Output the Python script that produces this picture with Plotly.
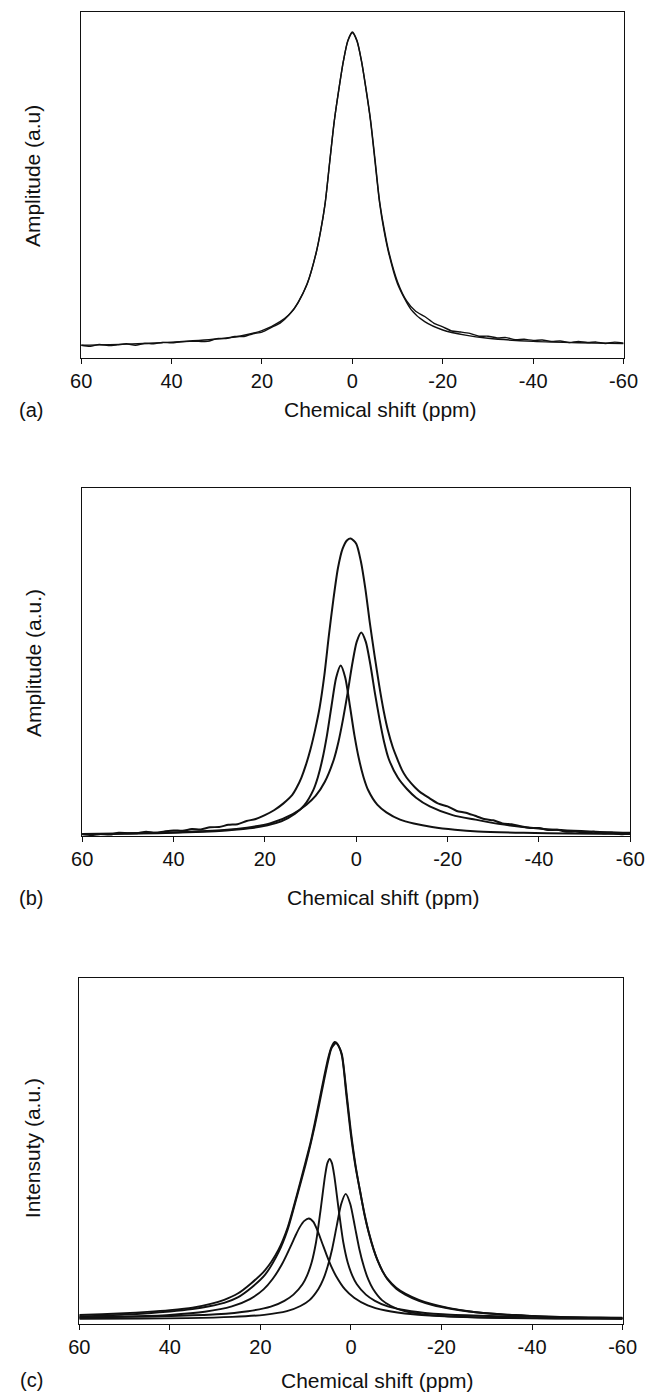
import plotly.graph_objects as go

W, H = 652, 1394

# ---------------- data (chemical shift in ppm, amplitude in axis fraction) -------------
# Panel (a): experimental spectrum and fitted single line
a_exp_x = [60, 58, 56, 54, 52, 50, 48, 46, 44, 42, 40, 38, 36, 34, 32, 30, 28, 26, 24, 22, 20,
           18, 16, 14, 12, 10, 8, 7, 6, 5, 4, 3, 2, 1, 0, -1, -2, -3, -4, -5, -6, -7, -8, -10,
           -12, -14, -16, -18, -20, -22, -24, -26, -28, -30, -32, -34, -36, -38, -40, -42, -44,
           -46, -48, -50, -52, -54, -56, -58, -60]
a_exp_y = [0.037, 0.034, 0.039, 0.036, 0.038, 0.041, 0.037, 0.042, 0.041, 0.045, 0.044, 0.047,
           0.048, 0.048, 0.048, 0.056, 0.056, 0.062, 0.062, 0.070, 0.075, 0.088, 0.101, 0.125,
           0.160, 0.215, 0.305, 0.37, 0.45, 0.57, 0.685, 0.775, 0.857, 0.918, 0.942, 0.918,
           0.86, 0.78, 0.69, 0.575, 0.455, 0.375, 0.31, 0.22, 0.165, 0.135, 0.120, 0.101,
           0.090, 0.078, 0.075, 0.071, 0.063, 0.063, 0.058, 0.059, 0.053, 0.054, 0.051, 0.052,
           0.048, 0.049, 0.045, 0.048, 0.045, 0.046, 0.042, 0.046, 0.043]
a_fit_x = [60, 50, 40, 30, 25, 20, 16, 13, 10, 8, 7, 6, 5, 4, 3, 2, 1, 0, -1, -2, -3, -4, -5,
           -6, -7, -8, -10, -13, -16, -20, -25, -30, -40, -50, -60]
a_fit_y = [0.037, 0.040, 0.046, 0.055, 0.063, 0.079, 0.105, 0.14, 0.214, 0.305, 0.368, 0.45,
           0.568, 0.686, 0.777, 0.858, 0.916, 0.94, 0.916, 0.858, 0.777, 0.686, 0.568, 0.45,
           0.368, 0.305, 0.214, 0.14, 0.105, 0.081, 0.066, 0.057, 0.048, 0.044, 0.042]

# Panel (b): experimental spectrum and two fitted components
b_exp_x = [60, 58, 56, 54, 52, 50, 48, 46, 44, 42, 40, 38, 36, 34, 32, 30, 28, 26, 24, 22, 20,
           18, 16, 14, 13, 12, 11, 10, 9, 8, 7, 6, 5, 4, 3, 2, 1.2, 0, -1, -2, -3, -4, -5, -6,
           -7, -8, -9, -10, -11, -12, -13, -14, -16, -18, -20, -22, -24, -26, -28, -30, -32,
           -34, -36, -38, -40, -42, -44, -46, -48, -50, -52, -54, -56, -58, -60]
b_exp_y = [0.006, 0.003, 0.006, 0.004, 0.009, 0.008, 0.008, 0.012, 0.009, 0.013, 0.016, 0.015,
           0.020, 0.019, 0.025, 0.026, 0.032, 0.034, 0.043, 0.049, 0.060, 0.074, 0.093, 0.118,
           0.140, 0.168, 0.205, 0.25, 0.305, 0.37, 0.46, 0.575, 0.68, 0.77, 0.825, 0.85, 0.855,
           0.84, 0.79, 0.71, 0.61, 0.52, 0.435, 0.36, 0.30, 0.255, 0.221, 0.19, 0.168, 0.152,
           0.138, 0.126, 0.109, 0.093, 0.085, 0.072, 0.067, 0.058, 0.049, 0.045, 0.036, 0.034,
           0.028, 0.023, 0.023, 0.017, 0.018, 0.012, 0.013, 0.010, 0.012, 0.008, 0.009, 0.005,
           0.008]
b_c1_x = [60, 53.4, 43.4, 33.4, 28.4, 23.4, 19.4, 16.4, 13.4, 11.4, 9.4, 8.4, 7.4, 6.4, 5.4,
          4.4, 3.4, 2.4, 1.4, 0.4, -0.6, -1.6, -2.6, -4.6, -6.6, -9.6, -12.6, -16.6, -21.6,
          -26.6, -36.6, -46.6, -60]
b_c1_y = [0.005, 0.006, 0.008, 0.012, 0.016, 0.022, 0.031, 0.042, 0.064, 0.088, 0.132, 0.169,
          0.221, 0.29, 0.375, 0.455, 0.49, 0.455, 0.375, 0.29, 0.221, 0.169, 0.132, 0.09,
          0.068, 0.047, 0.036, 0.026, 0.018, 0.013, 0.009, 0.007, 0.006]
b_c2_x = [60, 48.9, 38.9, 28.9, 23.9, 18.9, 13.9, 10.9, 8.9, 6.9, 4.9, 3.9, 2.9, 1.9, 0.9,
          -0.1, -1.1, -2.1, -3.1, -4.1, -5.1, -6.1, -7.1, -9.1, -11.1, -13.1, -16.1, -21.1,
          -26.1, -31.1, -41.1, -51.1, -60]
b_c2_y = [0.006, 0.008, 0.011, 0.017, 0.024, 0.036, 0.063, 0.09, 0.115, 0.155, 0.22, 0.27,
          0.335, 0.41, 0.492, 0.558, 0.585, 0.558, 0.492, 0.41, 0.335, 0.27, 0.222, 0.168,
          0.135, 0.11, 0.085, 0.06, 0.047, 0.035, 0.02, 0.013, 0.009]

# Panel (c): experimental spectrum, total fit and three components
c_exp_x = [60, 55, 50, 45, 40, 35, 31, 28, 25, 22, 19, 16, 14, 12, 10, 9, 8, 7, 6, 5, 4.3,
           3.6, 3, 2, 1, 0, -1, -2, -3, -4, -5, -6, -7, -8, -10, -12, -15, -18, -22, -26,
           -30, -35, -40, -45, -50, -55, -60]
c_exp_y = [0.026, 0.028, 0.031, 0.035, 0.040, 0.047, 0.058, 0.070, 0.088, 0.118, 0.155, 0.215,
           0.278, 0.37, 0.47, 0.52, 0.58, 0.645, 0.71, 0.77, 0.80, 0.815, 0.81, 0.775, 0.66,
           0.545, 0.455, 0.385, 0.315, 0.26, 0.215, 0.18, 0.152, 0.132, 0.105, 0.088, 0.07,
           0.057, 0.045, 0.037, 0.031, 0.027, 0.023, 0.021, 0.019, 0.018, 0.017]
c_fit_x = [60, 50, 40, 35, 31, 28, 25, 22, 19, 16, 14, 12, 10, 9, 8, 7, 6, 5, 4.3, 3.3, 2.6,
           2, 1, 0, -1, -2, -3, -4, -5, -6, -7, -8, -10, -12, -15, -18, -22, -26, -30, -35,
           -40, -45, -50, -55, -60]
c_fit_y = [0.022, 0.027, 0.036, 0.043, 0.052, 0.061, 0.077, 0.105, 0.142, 0.207, 0.272, 0.365,
           0.462, 0.515, 0.572, 0.635, 0.70, 0.762, 0.797, 0.812, 0.80, 0.78, 0.672, 0.555,
           0.46, 0.385, 0.318, 0.262, 0.217, 0.18, 0.152, 0.13, 0.102, 0.085, 0.067, 0.055,
           0.044, 0.036, 0.031, 0.026, 0.023, 0.02, 0.018, 0.017, 0.016]
c_A_x = [60, 50, 40, 32.3, 26.3, 22.3, 19.3, 17.3, 15.3, 14.3, 13.3, 12.3, 11.3, 10.3, 9.3,
         8.3, 7.3, 6.3, 5.3, 4.3, 3.3, 1.3, -0.7, -3.7, -7.7, -13.7, -20.7, -30.7, -40.7, -50, -60]
c_A_y = [0.0187, 0.0213, 0.0265, 0.0355, 0.051, 0.072, 0.1, 0.13, 0.171, 0.197, 0.225, 0.254,
         0.28, 0.298, 0.305, 0.295, 0.267, 0.232, 0.197, 0.165, 0.139, 0.1, 0.076, 0.054,
         0.039, 0.028, 0.0225, 0.0188, 0.017, 0.0163, 0.0156]
c_B_x = [60, 49.7, 39.7, 29.7, 22.7, 17.7, 14.7, 12.7, 10.7, 9.7, 8.7, 7.7, 6.7, 5.7, 5.2, 4.7,
         4.2, 3.7, 2.7, 1.7, 0.7, -0.3, -1.3, -3.3, -5.3, -8.3, -13.3, -20.3, -30.3, -45, -60]
c_B_y = [0.019, 0.021, 0.023, 0.028, 0.037, 0.05, 0.067, 0.085, 0.115, 0.14, 0.177, 0.237,
         0.33, 0.43, 0.465, 0.477, 0.465, 0.43, 0.33, 0.237, 0.177, 0.14, 0.115, 0.085, 0.067,
         0.05, 0.037, 0.028, 0.023, 0.02, 0.018]
c_C_x = [60, 46.15, 36.15, 26.15, 19.15, 14.15, 11.15, 9.15, 7.15, 6.15, 5.15, 4.15, 3.15,
         2.15, 1.15, 0.15, -0.85, -1.85, -2.85, -3.85, -4.85, -6.85, -8.85, -11.85, -16.85,
         -23.85, -33.85, -45, -60]
c_C_y = [0.015, 0.016, 0.017, 0.0205, 0.0265, 0.037, 0.052, 0.069, 0.102, 0.128, 0.166, 0.217,
         0.283, 0.347, 0.376, 0.347, 0.283, 0.217, 0.166, 0.128, 0.102, 0.069, 0.052, 0.037,
         0.0265, 0.0205, 0.017, 0.016, 0.015]

tick_vals = [60, 40, 20, 0, -20, -40, -60]
tick_text = ["60", "40", "20", "0", "-20", "-40", "-60"]

panel_tags = ["(a)", "(b)", "(c)"]
y_titles = ["Amplitude (a.u)", "Amplitude (a.u.)", "Intensuty (a.u.)"]
x_title = "Chemical shift (ppm)"

# ---------------- layout geometry (pixels) ----------------
FONT = "Liberation Sans, Arial, Helvetica, sans-serif"
INK = "#111111"

panels = [
    dict(l=73, r=637, t=12, b=358, lw=1.4, ytc=(23, 176), xt=(384, 409), tag=(21, 410)),
    dict(l=74, r=644, t=488, b=836, lw=2.0, ytc=(23, 663), xt=(387, 897), tag=(21, 898)),
    dict(l=71, r=636, t=978, b=1324, lw=1.9, ytc=(22, 1148), xt=(381, 1380), tag=(21, 1380)),
]


def px(x):
    return x / W


def py(y):
    return 1 - y / H


series = [
    [(a_exp_x, a_exp_y), (a_fit_x, a_fit_y)],
    [(b_exp_x, b_exp_y), (b_c1_x, b_c1_y), (b_c2_x, b_c2_y)],
    [(c_exp_x, c_exp_y), (c_fit_x, c_fit_y), (c_A_x, c_A_y), (c_B_x, c_B_y), (c_C_x, c_C_y)],
]

fig = go.Figure()
layout = dict(
    width=W, height=H, margin=dict(l=0, r=0, t=0, b=0),
    paper_bgcolor="white", plot_bgcolor="white", showlegend=False,
    font=dict(family=FONT, color=INK, size=20),
)
annotations = []

for i, (p, ser) in enumerate(zip(panels, series)):
    k = "" if i == 0 else str(i + 1)
    for xs, ys in ser:
        fig.add_trace(go.Scatter(
            x=xs, y=ys, mode="lines", xaxis="x" + k, yaxis="y" + k,
            line=dict(color=INK, width=p["lw"], shape="spline", smoothing=0.7),
            hoverinfo="skip"))
    layout["xaxis" + k] = dict(
        domain=[px(p["l"]), px(p["r"])], anchor="y" + k,
        range=[60, -60], tickmode="array", tickvals=tick_vals, ticktext=tick_text,
        ticks="outside", ticklen=5, tickwidth=1, tickcolor=INK,
        showline=True, linecolor=INK, linewidth=1.3, mirror=True,
        showgrid=False, zeroline=False, tickfont=dict(size=20, family=FONT, color=INK),
        ticklabeloverflow="allow", fixedrange=True)
    layout["yaxis" + k] = dict(
        domain=[py(p["b"]), py(p["t"])], anchor="x" + k, range=[0, 1],
        showticklabels=False, ticks="", showline=True, linecolor=INK, linewidth=1.3,
        mirror=True, showgrid=False, zeroline=False, fixedrange=True)
    annotations.append(dict(
        x=px(p["ytc"][0]), y=py(p["ytc"][1]), xref="paper", yref="paper",
        text=y_titles[i], textangle=-90, showarrow=False,
        xanchor="center", yanchor="middle", font=dict(size=21, family=FONT, color=INK)))
    annotations.append(dict(
        x=px(p["xt"][0]), y=py(p["xt"][1]), xref="paper", yref="paper",
        text=x_title, showarrow=False, xanchor="center", yanchor="middle",
        font=dict(size=21, family=FONT, color=INK)))
    annotations.append(dict(
        x=px(p["tag"][0]), y=py(p["tag"][1]), xref="paper", yref="paper",
        text=panel_tags[i], showarrow=False, xanchor="center", yanchor="middle",
        font=dict(size=20, family=FONT, color=INK)))

layout["annotations"] = annotations
fig.update_layout(**layout)
fig.write_html("out.html")
